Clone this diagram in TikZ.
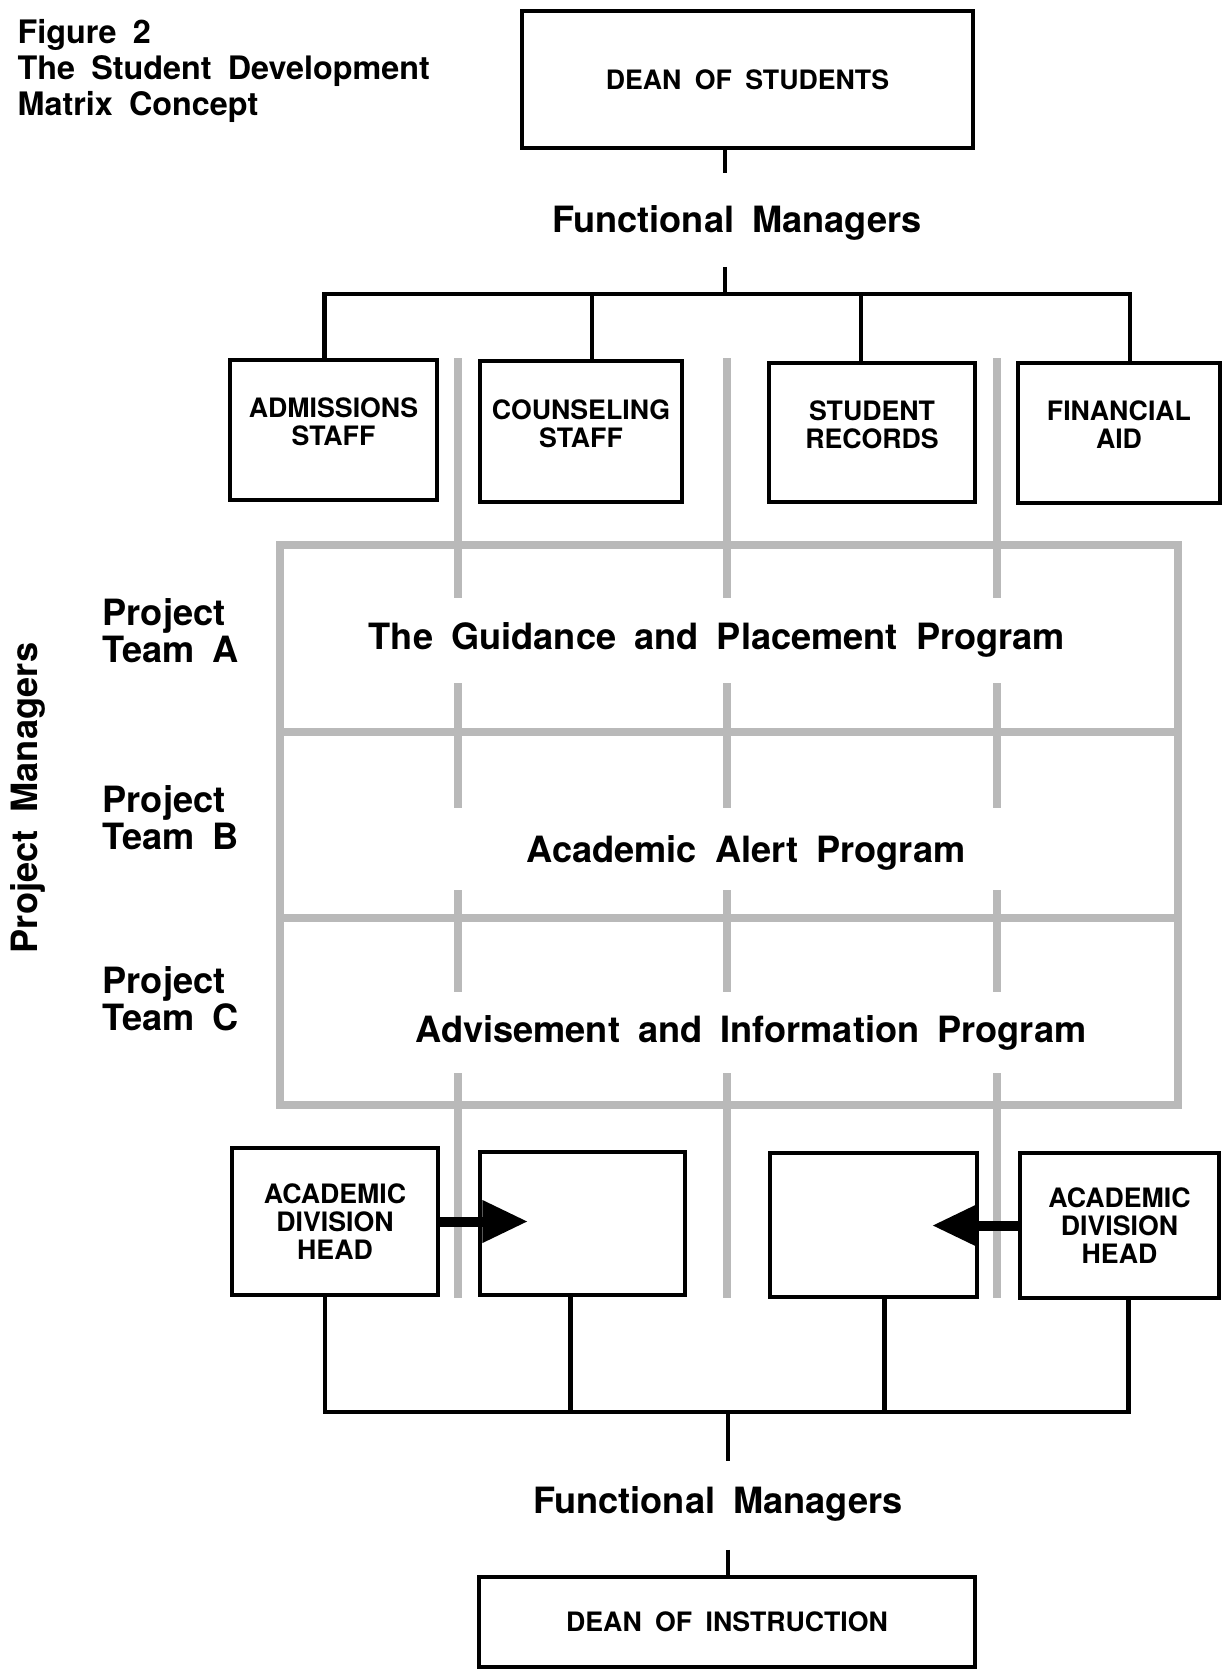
\documentclass[tikz,border=0pt]{standalone}
\usepackage{fontspec}
\setmainfont{TeX Gyre Heros}[WordSpace=1.8]
\usetikzlibrary{arrows.meta}

\newcommand\titlefont{\fontsize{9.2}{10.2}\selectfont\bfseries}
\newcommand\bigfont{\fontsize{10.3}{10.5}\selectfont\bfseries}
\newcommand\boxfont{\fontsize{7.6}{8}\selectfont\bfseries}

\tikzset{
	unit/.style={draw,line width=1.4pt,align=center,font=\boxfont,inner sep=0pt},
	staff/.style={unit,text depth=1.6mm},
	link/.style={line width=1.3pt},
	gridline/.style={line width=2.3pt,gray!55},
	push/.style={line width=2.85pt,-{Triangle[length=13pt,width=11.4pt]}},
}

\begin{document}
\begin{tikzpicture}
	\useasboundingbox (0,0) rectangle (12.22,-16.71);
	\node[anchor=north west,align=left,font=\titlefont,inner sep=0pt] (title) at (0.17,-0.19) {Figure 2\\The Student Development\\Matrix Concept};
	% functional side
	\node[unit,minimum width=4.51cm,minimum height=1.37cm] (dos) at (7.475,-0.795) {DEAN OF STUDENTS};
	\node[font=\bigfont] (fmTop) at (7.37,-2.23) {Functional Managers};
	\coordinate (hubTop) at (7.25,-2.94);
	\node[staff,minimum width=2.07cm,minimum height=1.40cm] (adm) at (3.335,-4.30) {ADMISSIONS\\STAFF};
	\node[staff,minimum width=2.02cm,minimum height=1.41cm] (cou) at (5.81,-4.315) {COUNSELING\\STAFF};
	\node[staff,minimum width=2.06cm,minimum height=1.39cm] (rec) at (8.72,-4.325) {STUDENT\\RECORDS};
	\node[staff,minimum width=2.02cm,minimum height=1.40cm] (fin) at (11.19,-4.33) {FINANCIAL\\AID};
	\draw[link] (dos.south -| hubTop) -- ([yshift=0.20cm]fmTop.north -| hubTop);
	\draw[link] ([yshift=-0.14cm]fmTop.south -| hubTop) -- (hubTop);
	\draw[link] ([xshift=-0.09cm]adm.north) |- (hubTop) -| ([xshift=0.11cm]fin.north);
	\draw[link] ([xshift=0.11cm]cou.north) -- ([xshift=0.11cm]cou.north |- hubTop);
	\draw[link] ([xshift=-0.11cm]rec.north) -- ([xshift=-0.11cm]rec.north |- hubTop);
	% the matrix
	\draw[gridline] (2.80,-5.45) rectangle (11.78,-11.05);
	\foreach \y in {-7.32,-9.18} \draw[gridline] (2.80,\y) -- (11.78,\y);
	\foreach \x in {4.58,7.27,9.97}
		\foreach \a/\b in {-3.58/-5.98,-6.83/-8.08,-8.90/-9.92,-10.73/-12.98}
			\draw[gridline] (\x,\a) -- (\x,\b);
	\node[rotate=90,font=\bigfont] (pm) at (0.28,-7.98) {Project Managers};
	\node[anchor=west,align=left,font=\bigfont,inner sep=0pt] (teamA) at (1.02,-6.31) {Project\\Team A};
	\node[anchor=west,align=left,font=\bigfont,inner sep=0pt] (teamB) at (1.02,-8.18) {Project\\Team B};
	\node[anchor=west,align=left,font=\bigfont,inner sep=0pt] (teamC) at (1.02,-9.99) {Project\\Team C};
	\node[font=\bigfont] (progA) at (7.17,-6.40) {The Guidance and Placement Program};
	\node[font=\bigfont] (progB) at (7.46,-8.53) {Academic Alert Program};
	\node[font=\bigfont] (progC) at (7.51,-10.33) {Advisement and Information Program};
	% instruction side
	\node[unit,minimum width=2.06cm,minimum height=1.47cm] (adhL) at (3.35,-12.215) {ACADEMIC\\DIVISION\\HEAD};
	\node[unit,minimum width=2.05cm,minimum height=1.43cm] (empL) at (5.825,-12.235) {};
	\node[unit,minimum width=2.07cm,minimum height=1.44cm] (empR) at (8.735,-12.25) {};
	\node[unit,minimum width=1.99cm,minimum height=1.45cm] (adhR) at (11.195,-12.255) {ACADEMIC\\DIVISION\\HEAD};
	\coordinate (tipL) at (5.28,-12.24);
	\coordinate (tipR) at (9.32,-12.26);
	\draw[push] (adhL.east) -- (adhL.east -| tipL);
	\draw[push] (adhR.west) -- (adhR.west -| tipR);
	\coordinate (hubLow) at (7.28,-14.12);
	\node[font=\bigfont] (fmLow) at (7.18,-15.04) {Functional Managers};
	\node[unit,minimum width=4.96cm,minimum height=0.90cm] (doi) at (7.27,-16.22) {DEAN OF INSTRUCTION};
	\draw[link] ([xshift=-0.10cm]adhL.south) |- (hubLow) -| ([xshift=0.09cm]adhR.south);
	\draw[link] ([xshift=-0.12cm]empL.south) -- ([xshift=-0.12cm]empL.south |- hubLow);
	\draw[link] ([xshift=0.11cm]empR.south) -- ([xshift=0.11cm]empR.south |- hubLow);
	\draw[link] (hubLow) -- ([yshift=0.13cm]fmLow.north -| hubLow);
	\draw[link] ([yshift=-0.16cm]fmLow.south -| hubLow) -- (doi.north -| hubLow);
\end{tikzpicture}
\end{document}
